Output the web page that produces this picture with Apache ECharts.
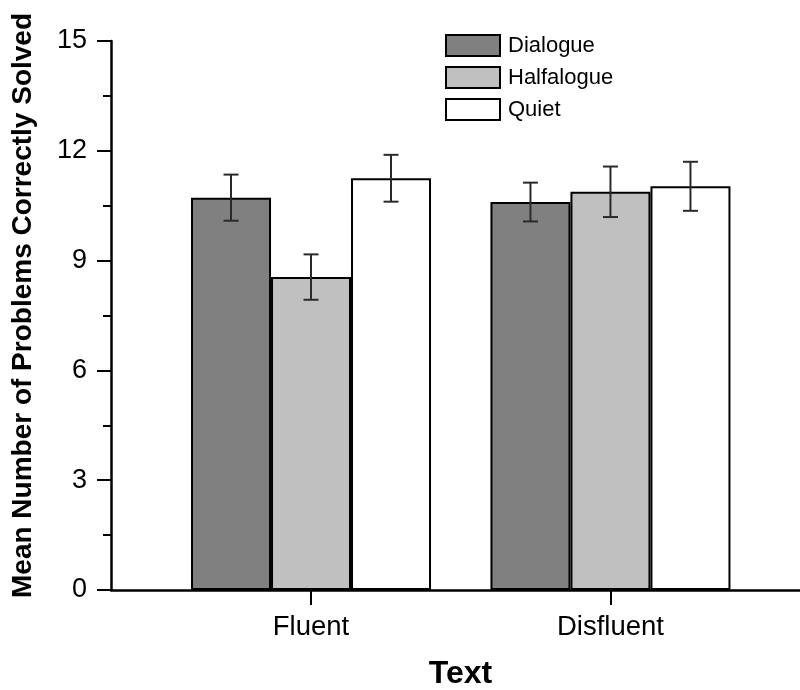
<!DOCTYPE html>
<html>
<head>
<meta charset="utf-8">
<script src="https://cdn.jsdelivr.net/npm/echarts@6/dist/echarts.min.js"></script>
<style>html,body{margin:0;padding:0;background:#fff}#c{width:800px;height:690px}</style>
</head>
<body>
<div id="c"></div>
<script>
// ---- data ----
const categories = ['Fluent', 'Disfluent'];
const seriesNames = ['Dialogue', 'Halfalogue', 'Quiet'];
const dialogueMeans = [10.72, 10.60];
const halfalogueMeans = [8.55, 10.88];
const quietMeans = [11.25, 11.03];
const dialogueErr = [0.63, 0.53];
const halfalogueErr = [0.62, 0.69];
const quietErr = [0.64, 0.67];
const yTicks = [0, 3, 6, 9, 12, 15];

const FONT = '"Liberation Sans", Arial, sans-serif';
const means = [dialogueMeans, halfalogueMeans, quietMeans];
const errs = [dialogueErr, halfalogueErr, quietErr];
const fills = ['#808080', '#c0c0c0', '#ffffff'];
const BAR_W = 80;
const catPos = categories.map((c, i) => i + 1);

const chart = echarts.init(document.getElementById('c'), null, {renderer: 'canvas'});

const barSeries = seriesNames.map((name, k) => ({
  name: name,
  type: 'bar',
  barWidth: BAR_W,
  barGap: '0%',
  data: means[k].map((v, i) => [catPos[i], v]),
  itemStyle: {color: fills[k], borderColor: '#000', borderWidth: 2},
  emphasis: {disabled: true},
  z: 2
}));

const errSeries = seriesNames.map((name, k) => ({
  type: 'custom',
  name: name + ' err',
  z: 5,
  silent: true,
  data: means[k].map((v, i) => [catPos[i], v - errs[k][i], v + errs[k][i]]),
  renderItem: function (params, api) {
    const x = api.value(0);
    const top = api.coord([x, api.value(2)]);
    const bot = api.coord([x, api.value(1)]);
    const cx = top[0] + (k - 1) * BAR_W;
    const cap = 7.5;
    const style = {stroke: '#2a2a2a', lineWidth: 2, fill: null};
    return {
      type: 'group',
      children: [
        {type: 'line', shape: {x1: cx, y1: top[1], x2: cx, y2: bot[1]}, style: style},
        {type: 'line', shape: {x1: cx - cap, y1: top[1], x2: cx + cap, y2: top[1]}, style: style},
        {type: 'line', shape: {x1: cx - cap, y1: bot[1], x2: cx + cap, y2: bot[1]}, style: style}
      ]
    };
  }
}));

chart.setOption({
  animation: false,
  backgroundColor: '#fff',
  textStyle: {fontFamily: FONT},
  grid: {left: 111, right: 0, top: 41, bottom: 100, containLabel: false, outerBoundsMode: 'none'},
  legend: {
    data: seriesNames.map(n => ({name: n, icon: 'rect'})),
    orient: 'vertical',
    left: 440,
    top: 29,
    itemWidth: 54,
    itemHeight: 21,
    itemGap: 9,
    selectedMode: false,
    textStyle: {fontSize: 22, lineHeight: 21, color: '#000', fontFamily: FONT, padding: [0, 0, 0, 3]}
  },
  xAxis: {
    type: 'value',
    min: 0.332,
    max: 2.633,
    name: 'Text',
    nameLocation: 'middle',
    nameGap: 68,
    nameTextStyle: {fontSize: 32, fontWeight: 'bold', color: '#000', fontFamily: FONT, padding: [0, 0, 0, 10]},
    axisLine: {show: true, onZero: false, lineStyle: {color: '#000', width: 2.5}},
    axisTick: {show: true, customValues: catPos, length: 15, lineStyle: {color: '#000', width: 2}},
    axisLabel: {
      customValues: catPos,
      margin: 23,
      fontSize: 27.5,
      color: '#000',
      fontFamily: FONT,
      formatter: function (v) { return categories[Math.round(v) - 1] || ''; }
    },
    splitLine: {show: false}
  },
  yAxis: {
    type: 'value',
    min: yTicks[0],
    max: yTicks[yTicks.length - 1],
    interval: yTicks[1] - yTicks[0],
    name: 'Mean Number of Problems Correctly Solved',
    nameLocation: 'middle',
    nameGap: 74,
    nameTextStyle: {fontSize: 28, fontWeight: 'bold', color: '#000', fontFamily: FONT, padding: [0, 0, 0, 20]},
    axisLine: {show: true, lineStyle: {color: '#000', width: 2.5}},
    axisTick: {show: true, inside: false, length: 14, lineStyle: {color: '#000', width: 2}},
    minorTick: {show: true, splitNumber: 2, length: 8, lineStyle: {color: '#000', width: 2}},
    axisLabel: {margin: 24, fontSize: 27, color: '#000', fontFamily: FONT},
    splitLine: {show: false},
    minorSplitLine: {show: false}
  },
  series: barSeries.concat(errSeries)
});
</script>
</body>
</html>
